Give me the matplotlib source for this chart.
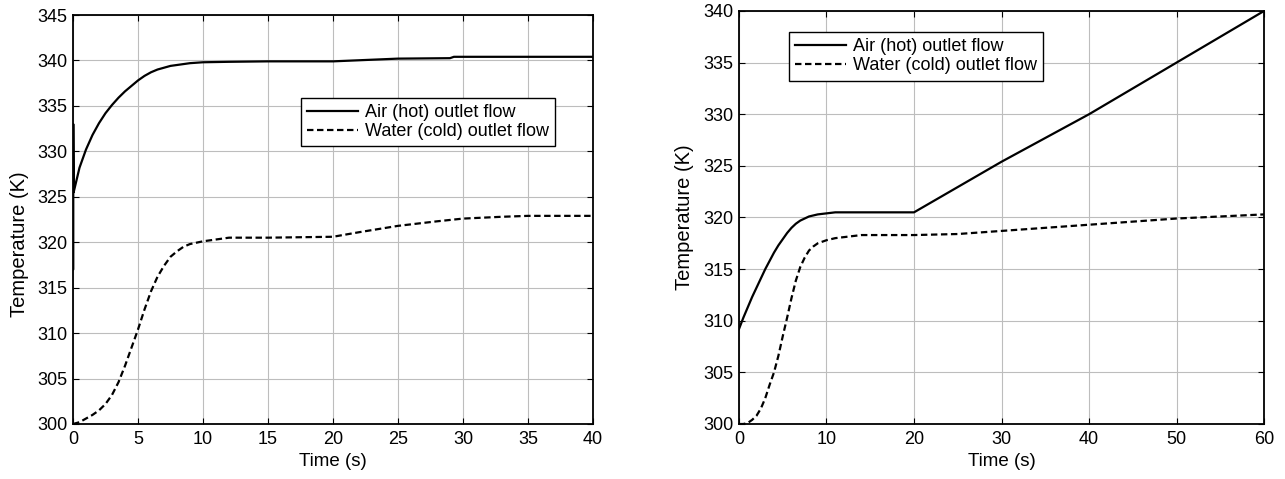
import matplotlib
matplotlib.use("Agg")
import matplotlib.pyplot as plt

plt.rcParams['font.family'] = ['Liberation Sans', 'DejaVu Sans']

# Left panel data
t_left_hot = [0, 0.02, 0.02, 0.05, 0.5, 1, 1.5, 2, 2.5, 3, 3.5, 4, 4.5, 5, 5.5, 6, 6.5, 7, 7.5, 8, 9, 10,
              12, 15, 20, 25, 29, 29.3, 35, 40]
T_left_hot = [317, 317, 333, 325.5, 328.2, 330.2, 331.8, 333.1, 334.2, 335.1, 335.9, 336.6, 337.2, 337.8,
              338.3, 338.7, 339.0, 339.2, 339.4, 339.5, 339.7, 339.8,
              339.85, 339.9, 339.9, 340.2, 340.25, 340.4, 340.4, 340.4]
t_left_cold = [0, 0.5, 1, 1.5, 2, 2.5, 3, 3.5, 4, 4.5, 5, 5.5, 6, 6.5, 7, 7.5, 8, 8.5, 9, 10, 11, 12, 15,
               20, 22, 25, 28, 30, 33, 35, 40]
T_left_cold = [300.0, 300.2, 300.6, 301.0, 301.5, 302.2, 303.2, 304.6, 306.4, 308.4, 310.4, 312.6, 314.6,
               316.2, 317.4, 318.4, 319.0, 319.5, 319.8, 320.1, 320.3, 320.5, 320.5,
               320.6, 321.1, 321.8, 322.3, 322.6, 322.8, 322.9, 322.9]

# Right panel data
t_right_hot = [0, 0.5, 1, 1.5, 2, 2.5, 3, 3.5, 4, 4.5, 5, 5.5, 6, 6.5, 7, 7.5, 8, 9, 10, 11, 15, 20, 30, 40, 50, 60]
T_right_hot = [309.2, 310.3, 311.3, 312.3, 313.2, 314.1, 315.0, 315.8, 316.6, 317.3, 317.9, 318.5, 319.0,
               319.4, 319.7, 319.9, 320.1, 320.3, 320.4, 320.5, 320.5, 320.5, 325.4, 330.0, 335.0, 340.0]
t_right_cold = [0, 0.5, 1, 1.5, 2, 2.5, 3, 3.5, 4, 4.5, 5, 5.5, 6, 6.5, 7, 7.5, 8, 8.5, 9, 10, 11, 13, 14,
                20, 25, 30, 40, 50, 60]
T_right_cold = [300.0, 300.0, 300.1, 300.4, 300.8, 301.5, 302.5, 303.8, 305.0, 306.6, 308.5, 310.3, 312.2,
                313.9, 315.2, 316.1, 316.8, 317.2, 317.5, 317.8, 318.0, 318.2, 318.3,
                318.3, 318.4, 318.7, 319.3, 319.9, 320.3]

legend_labels = ['Air (hot) outlet flow', 'Water (cold) outlet flow']
xlabel = 'Time (s)'
ylabel = 'Temperature (K)'

fig = plt.figure(figsize=(12.85, 4.79), dpi=100)
axL = fig.add_axes([73/1285, 1-424/479, 520/1285, 409/479])
axR = fig.add_axes([739/1285, 1-424/479, 525/1285, 413/479])

DASH = (0, (2.9, 1.6))

def style(ax, xlim, ylim, xticks, yticks):
    ax.set_xlim(*xlim)
    ax.set_ylim(*ylim)
    ax.set_xticks(xticks)
    ax.set_yticks(yticks)
    ax.grid(True, color='#bdbdbd', linewidth=0.8, linestyle='-')
    ax.set_axisbelow(True)
    ax.tick_params(direction='in', top=True, right=True, length=4, width=0.8,
                   labelsize=13, colors='black')
    ax.tick_params(axis='x', pad=5)
    ax.tick_params(axis='y', pad=4)
    for s in ax.spines.values():
        s.set_linewidth(1.3)
        s.set_color('black')
    ax.set_xlabel(xlabel, fontsize=13.5, labelpad=4)
    ax.set_ylabel(ylabel, fontsize=14.5, labelpad=3)

axL.plot(t_left_hot, T_left_hot, color='black', lw=1.6, label=legend_labels[0])
axL.plot(t_left_cold, T_left_cold, color='black', lw=1.6, linestyle=DASH, label=legend_labels[1])
style(axL, (0, 40), (300, 345), range(0, 41, 5), range(300, 346, 5))
axL.yaxis.set_label_coords(-0.085, 0.44)

axR.plot(t_right_hot, T_right_hot, color='black', lw=1.6, label=legend_labels[0])
axR.plot(t_right_cold, T_right_cold, color='black', lw=1.6, linestyle=DASH, label=legend_labels[1])
style(axR, (0, 60), (300, 340), range(0, 61, 10), range(300, 341, 5))
axR.yaxis.set_label_coords(-0.085, 0.5)

for ax, anchor in ((axL, (0.4385, 0.797)), (axR, (0.0952, 0.949))):
    leg = ax.legend(loc='upper left', bbox_to_anchor=anchor, borderaxespad=0, fontsize=13,
                    handlelength=2.8, handletextpad=0.4, borderpad=0.35, labelspacing=0.1,
                    fancybox=False, framealpha=1, edgecolor='black')
    leg.get_frame().set_linewidth(1.0)

fig.savefig('out.png', dpi=100)
